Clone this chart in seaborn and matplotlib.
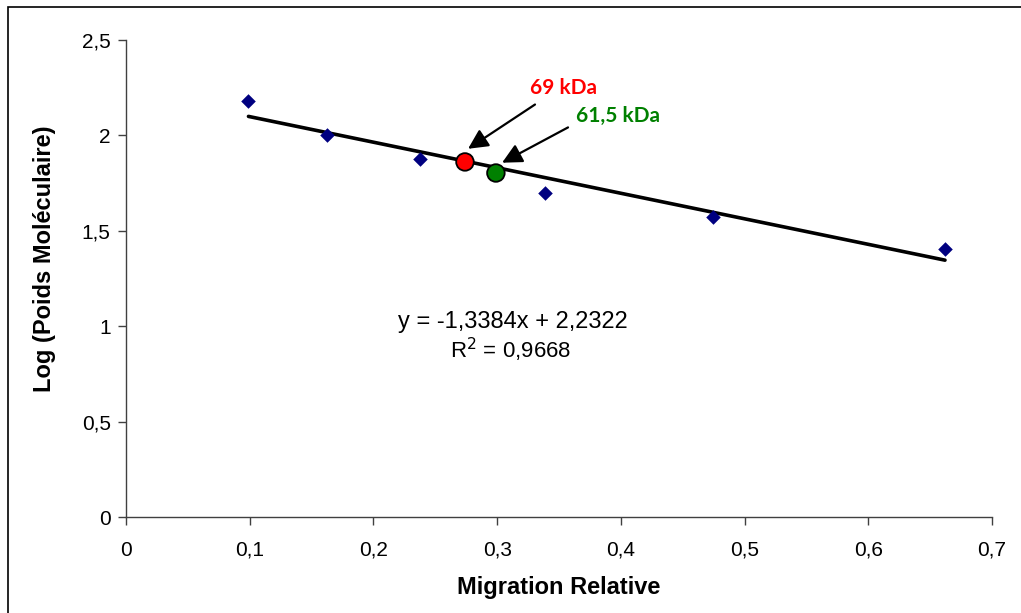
import numpy as np
import pandas as pd
import matplotlib
matplotlib.use("Agg")
import matplotlib.pyplot as plt
import seaborn as sns
from matplotlib.patches import Rectangle

# ---- data ----
migration = [0.099, 0.1625, 0.238, 0.339, 0.4745, 0.662]
log_pm = [2.18, 2.00, 1.876, 1.698, 1.572, 1.405]
slope = [-1.3384]
intercept = [2.2322]
r2 = [0.9668]
unknown_labels = ["69 kDa", "61,5 kDa"]
unknown_x = [0.274, 0.299]
unknown_y = [1.861, 1.803]
unknown_colors = ["#ff0000", "#008000"]
x_ticks = [0, 0.1, 0.2, 0.3, 0.4, 0.5, 0.6, 0.7]
y_ticks = [0, 0.5, 1, 1.5, 2, 2.5]

sns.set_style("white")
plt.rcParams['font.family'] = ['Liberation Sans', 'DejaVu Sans']
plt.rcParams['text.color'] = 'black'
plt.rcParams['axes.labelcolor'] = 'black'

fig = plt.figure(figsize=(10.21, 6.13), dpi=100)
ax = fig.add_axes([0.1234, 0.1566, 0.8482, 0.7781])

df = pd.DataFrame({"x": migration, "y": log_pm})
xs = np.array([min(migration), max(migration)])
trend = pd.DataFrame({"x": xs, "y": slope[0] * xs + intercept[0]})
sns.lineplot(data=trend, x="x", y="y", ax=ax, color="black", lw=2.6, zorder=2)
sns.scatterplot(data=df, x="x", y="y", ax=ax, marker="D", s=55, color="#000080",
                edgecolor="#000080", linewidth=0, zorder=3)
ud = pd.DataFrame({"x": unknown_x, "y": unknown_y, "c": unknown_labels})
sns.scatterplot(data=ud, x="x", y="y", hue="c", palette=unknown_colors, ax=ax, s=160,
                edgecolor="black", linewidth=1.3, zorder=4, legend=False)

ax.set_xlim(0, 0.7)
ax.set_ylim(0, 2.5)
ax.set_xticks(x_ticks)
ax.set_yticks(y_ticks)
fmt = lambda v: ("%g" % v).replace(".", ",")
ax.set_xticklabels([fmt(v) for v in x_ticks])
ax.set_yticklabels([fmt(v) for v in y_ticks])
ax.tick_params(axis="both", direction="out", length=6, width=1, color="#404040",
               labelsize=15, labelcolor="black", bottom=True, left=True)
ax.tick_params(axis="x", pad=11)
ax.tick_params(axis="y", pad=5)
for s in ["top", "right"]:
    ax.spines[s].set_visible(False)
for s in ["left", "bottom"]:
    ax.spines[s].set_color("#404040")
    ax.spines[s].set_linewidth(1)

ax.set_xlabel("Migration Relative", fontsize=17, fontweight="bold", labelpad=12,
              color="black")
ax.set_ylabel("Log (Poids Moléculaire)", fontsize=17, fontweight="bold", color="black")
ax.yaxis.set_label_coords(-0.081, 0.541)

# annotations
label_pos = [(0.3533, 2.248), (0.3977, 2.102)]
tails = [(0.3306, 2.162), (0.3573, 2.042)]
heads = [(0.2765, 1.930), (0.304, 1.857)]
for lab, col, lp, t, h in zip(unknown_labels, unknown_colors, label_pos, tails, heads):
    ax.text(lp[0], lp[1], lab, color=col, fontsize=15, fontweight="bold",
            ha="center", va="center", family=["Lato", "DejaVu Sans"])
    ax.annotate("", xy=h, xytext=t,
                arrowprops=dict(arrowstyle="-|>", mutation_scale=30, lw=1.6,
                                color="black", shrinkA=0, shrinkB=0))

eq = "y = " + fmt(slope[0]) + "x + " + fmt(intercept[0])
ax.text(0.3125, 1.022, eq, fontsize=17, ha="center", va="center", color="black")
ax.text(0.3105, 0.875, "R$^2$ = " + fmt(r2[0]), fontsize=16, ha="center", va="center",
        color="black")

# outer frame (top and left edges visible)
fig.patches.append(Rectangle((8 / 1021, -0.1), 1.2, 1 - 7 / 613 + 0.1,
                             transform=fig.transFigure, fill=False,
                             edgecolor="black", lw=1.2))

fig.savefig("out.png", dpi=100)
